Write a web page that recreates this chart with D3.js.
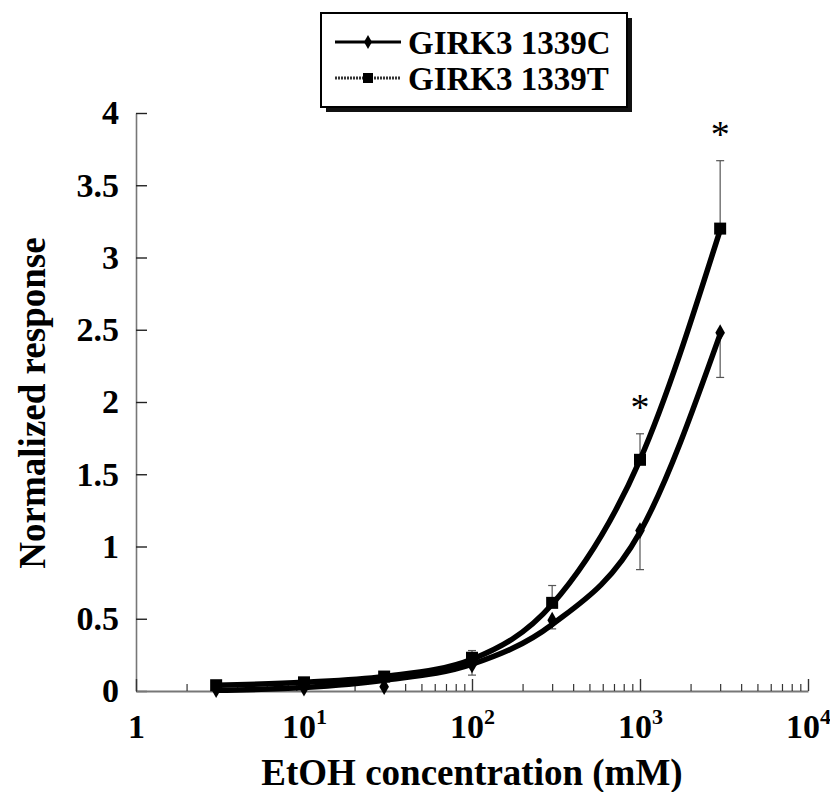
<!DOCTYPE html>
<html>
<head>
<meta charset="utf-8">
<script src="https://cdn.jsdelivr.net/npm/d3@7"></script>
<style>
  body { margin: 0; background: #fff; }
  text { font-family: "Liberation Serif", "Times New Roman", serif; font-weight: bold; fill: #000; }
</style>
</head>
<body>
<div id="chart"></div>
<script>
// concentrations (mM)
var conc = [3, 10, 30, 100, 300, 1000, 3000];
// measured means
var respC = [0.01, 0.02, 0.03, 0.18, 0.49, 1.11, 2.48];
var respT = [0.04, 0.06, 0.10, 0.23, 0.61, 1.60, 3.20];
// error bar ends (C drawn down, T drawn up), null = hidden
var errC = [null, null, null, 0.11, 0.43, 0.84, 2.17];
var errT = [null, null, 0.13, 0.28, 0.73, 1.78, 3.67];
// fitted curves
var fitC = [0.005, 0.025, 0.075, 0.185, 0.46, 1.10, 2.47];
var fitT = [0.04, 0.06, 0.10, 0.22, 0.60, 1.60, 3.19];
var starConc = [1000, 3000];
var yTicks = [0, 0.5, 1, 1.5, 2, 2.5, 3, 3.5, 4];
var xTicks = [1, 10, 100, 1000, 10000];
var xTickExp = ["", "1", "2", "3", "4"];
var seriesNames = ["GIRK3 1339C", "GIRK3 1339T"];

var W = 830, H = 792;
var svg = d3.select("#chart").append("svg").attr("width", W).attr("height", H);

var x = d3.scaleLog().domain([1, 10000]).range([136, 808]);
var y = d3.scaleLinear().domain([0, 4]).range([691, 113]);

// y axis
var yAxis = svg.append("g").attr("transform", "translate(136,0)")
  .call(d3.axisLeft(y).tickValues(yTicks).tickSize(-11).tickSizeOuter(0).tickPadding(17)
    .tickFormat(function(d) { return d; }));
yAxis.select(".domain").attr("stroke", "#777").attr("stroke-width", 1.6);
yAxis.selectAll(".tick line").attr("stroke", "#222").attr("stroke-width", 1.4);
yAxis.selectAll(".tick text").style("font-size", "34px").style("font-family", "Liberation Serif").style("font-weight", "bold");

// x axis: minor ticks
var minor = x.ticks().filter(function(d) { return xTicks.indexOf(d) < 0; });
var xMinor = svg.append("g").attr("transform", "translate(0,691)")
  .call(d3.axisBottom(x).tickValues(minor).tickSize(-7).tickSizeOuter(0).tickFormat(""));
xMinor.select(".domain").attr("stroke", "#777").attr("stroke-width", 1.8);
xMinor.selectAll(".tick line").attr("stroke", "#333").attr("stroke-width", 1.2);

var xMajor = svg.append("g").attr("transform", "translate(0,691)")
  .call(d3.axisBottom(x).tickValues(xTicks).tickSize(-12).tickSizeOuter(0).tickFormat(""));
xMajor.select(".domain").remove();
xMajor.selectAll(".tick line").attr("stroke", "#333").attr("stroke-width", 1.4);
xMajor.selectAll(".tick").each(function(d, i) {
  var t = d3.select(this).append("text")
    .attr("y", 47).attr("text-anchor", "middle")
    .style("font-size", "34px");
  if (i === 0) { t.text("1"); return; }
  t.append("tspan").text("10");
  t.append("tspan").attr("dy", -14).style("font-size", "22px").text(xTickExp[i]);
});

// axis titles
svg.append("text").attr("x", 472).attr("y", 785).attr("text-anchor", "middle")
  .style("font-size", "37px").text("EtOH concentration (mM)");
svg.append("text").attr("transform", "translate(45,403) rotate(-90)").attr("text-anchor", "middle")
  .style("font-size", "37px").text("Normalized response");

// error bars
function errorBars(ends, means) {
  var d = conc.map(function(c, i) { return { c: c, m: means[i], e: ends[i] }; })
    .filter(function(p) { return p.e !== null; });
  var g = svg.append("g").attr("stroke", "#555").attr("stroke-width", 1.2);
  g.selectAll("line.v").data(d).enter().append("line")
    .attr("x1", function(p) { return x(p.c); }).attr("x2", function(p) { return x(p.c); })
    .attr("y1", function(p) { return y(p.m); }).attr("y2", function(p) { return y(p.e); });
  g.selectAll("line.cap").data(d).enter().append("line")
    .attr("x1", function(p) { return x(p.c) - 4; }).attr("x2", function(p) { return x(p.c) + 4; })
    .attr("y1", function(p) { return y(p.e); }).attr("y2", function(p) { return y(p.e); });
}
errorBars(errC, respC);
errorBars(errT, respT);

// fitted curves
var line = d3.line()
  .x(function(d) { return x(d[0]); })
  .y(function(d) { return y(d[1]); })
  .curve(d3.curveMonotoneX);
[fitC, fitT].forEach(function(f) {
  svg.append("path").datum(conc.map(function(c, i) { return [c, f[i]]; }))
    .attr("d", line).attr("fill", "none").attr("stroke", "#000").attr("stroke-width", 5.5);
});

// markers
var diamond = d3.symbol().type(d3.symbolDiamond).size(80);
var square = d3.symbol().type(d3.symbolSquare).size(144);
svg.append("g").selectAll("path").data(conc).enter().append("path")
  .attr("d", diamond)
  .attr("transform", function(c, i) { return "translate(" + x(c) + "," + y(respC[i]) + ")"; })
  .attr("fill", "#000");
svg.append("g").selectAll("path").data(conc).enter().append("path")
  .attr("d", square)
  .attr("transform", function(c, i) { return "translate(" + x(c) + "," + y(respT[i]) + ")"; })
  .attr("fill", "#000");

// significance stars above T error bars
svg.append("g").selectAll("text").data(starConc).enter().append("text")
  .attr("x", function(c) { return x(c); })
  .attr("y", function(c) { return y(errT[conc.indexOf(c)]) - 14; })
  .attr("text-anchor", "middle").style("font-size", "38px").style("font-weight", "normal")
  .text("*");

// legend
var lg = svg.append("g");
lg.append("rect").attr("x", 326).attr("y", 18).attr("width", 306).attr("height", 94).attr("fill", "#111");
lg.append("rect").attr("x", 321).attr("y", 13).attr("width", 306).attr("height", 94)
  .attr("fill", "#fff").attr("stroke", "#000").attr("stroke-width", 2);
seriesNames.forEach(function(name, i) {
  var ly = 42 + i * 36;
  lg.append("line").attr("x1", 335).attr("x2", 401).attr("y1", ly).attr("y2", ly)
    .attr("stroke", i === 0 ? "#000" : "#333").attr("stroke-width", 3)
    .attr("stroke-dasharray", i === 0 ? null : "2,1");
  lg.append("path").attr("d", i === 0 ? d3.symbol().type(d3.symbolDiamond).size(55)() : d3.symbol().type(d3.symbolSquare).size(100)())
    .attr("transform", "translate(368," + ly + ")").attr("fill", "#000");
  lg.append("text").attr("x", 408).attr("y", ly + 12).style("font-size", "33px").text(name);
});
</script>
</body>
</html>
